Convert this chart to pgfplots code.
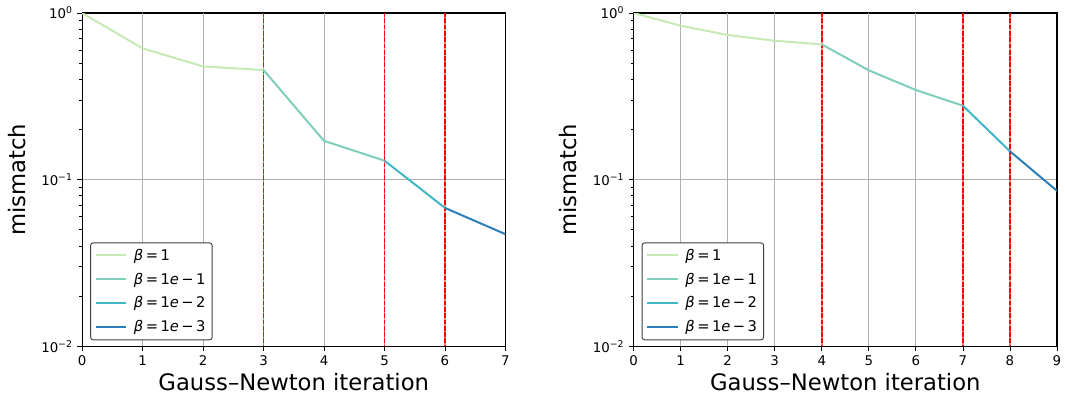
\documentclass[border=0pt]{standalone}
\usepackage{pgfplots}
\pgfplotsset{compat=1.18}
\usepackage{fontspec}
\setmainfont{DejaVu Sans}

\definecolor{b1}{HTML}{C7E9B4}
\definecolor{b2}{HTML}{7FCDBB}
\definecolor{b3}{HTML}{41B6C4}
\definecolor{b4}{HTML}{2C7FB8}
\definecolor{cutred}{HTML}{FF0000}

\pgfplotsset{
  every axis/.append style={
    scale only axis, width=317.25pt, height=249.75pt,
    ymin=0.01, ymax=1, xmin=0,
    ytick={0.01,0.1,1},
    yticklabels={10\textsuperscript{−2},10\textsuperscript{−1},10\textsuperscript{0}},
    minor ytick={0.02,0.03,0.04,0.05,0.06,0.07,0.08,0.09,0.2,0.3,0.4,0.5,0.6,0.7,0.8,0.9},
    ymajorgrids, major grid style={color=black!31, line width=0.6pt},
    tick align=outside, tick pos=left,
    major tick length=3.5pt, minor tick length=2pt,
    every tick/.style={black, line width=0.6pt},
    axis line style={line width=0.8pt},
    xlabel={Gauss–Newton iteration}, ylabel={mismatch},
    label style={font=\fontsize{17}{20}\selectfont},
    xlabel style={yshift=1pt},
    ylabel style={yshift=5pt},
    tick label style={font=\fontsize{10}{12}\selectfont},
    legend style={at={(0.019,0.018)}, anchor=south west,
      font=\fontsize{11}{13}\selectfont, draw=black!75, line width=0.7pt,
      rounded corners=2pt, inner xsep=3pt, inner ysep=2.5pt, row sep=4pt},
    legend cell align=left,
  },
  every axis plot/.append style={line width=1.5pt},
  legend image code/.code={\draw[#1, line width=1.5pt] (0pt,0pt) -- (23pt,0pt);},
  /pgf/number format/assume math mode=true,
}
\tikzset{
  cutbase/.style={draw=cutred!45, line width=1.2pt},
  cut/.style={draw=cutred, line width=1.2pt, dash pattern=on 3.5pt off 1.2pt, dash phase=0.6pt},
  vgrid/.style={black!31, line width=0.6pt},
}

\newcommand{\leg}[1]{\hspace{3pt}\textit{β}\,=\,#1}

\begin{document}
\begin{tikzpicture}
\useasboundingbox (-61.5pt,-42.75pt) rectangle (736.5pt,259.5pt);
\begin{semilogyaxis}[xmax=7, xtick={0,...,7}]
% vertical grid, except where a red line sits
\addplot[vgrid, forget plot] coordinates {(1,0.01) (1,1)};
\addplot[vgrid, forget plot] coordinates {(2,0.01) (2,1)};
\addplot[vgrid, forget plot] coordinates {(4,0.01) (4,1)};
% red dashed lines where beta changes
\addplot[cutbase, forget plot] coordinates {(3,1) (3,0.01)};
\addplot[cutbase, forget plot] coordinates {(5,1) (5,0.01)};
\addplot[cutbase, forget plot] coordinates {(6,1) (6,0.01)};
\addplot[cut, forget plot] coordinates {(3,1) (3,0.01)};
\addplot[cut, forget plot] coordinates {(5,1) (5,0.01)};
\addplot[cut, forget plot] coordinates {(6,1) (6,0.01)};
\addplot[b1] coordinates {(0,1.0) (1,0.614) (2,0.478) (3,0.455)};
\addplot[b2] coordinates {(3,0.455) (4,0.171) (5,0.130)};
\addplot[b3] coordinates {(5,0.130) (6,0.0677)};
\addplot[b4] coordinates {(6,0.0677) (7,0.0471)};
\legend{\leg{1}, \leg{1\textit{e}\,−\,1}, \leg{1\textit{e}\,−\,2}, \leg{1\textit{e}\,−\,3}}
\end{semilogyaxis}

\begin{semilogyaxis}[at={(413.25pt,0)}, xmax=9, xtick={0,...,9}]
\addplot[vgrid, forget plot] coordinates {(1,0.01) (1,1)};
\addplot[vgrid, forget plot] coordinates {(2,0.01) (2,1)};
\addplot[vgrid, forget plot] coordinates {(3,0.01) (3,1)};
\addplot[vgrid, forget plot] coordinates {(5,0.01) (5,1)};
\addplot[vgrid, forget plot] coordinates {(6,0.01) (6,1)};
\addplot[cutbase, forget plot] coordinates {(4,1) (4,0.01)};
\addplot[cutbase, forget plot] coordinates {(7,1) (7,0.01)};
\addplot[cutbase, forget plot] coordinates {(8,1) (8,0.01)};
\addplot[cut, forget plot] coordinates {(4,1) (4,0.01)};
\addplot[cut, forget plot] coordinates {(7,1) (7,0.01)};
\addplot[cut, forget plot] coordinates {(8,1) (8,0.01)};
\addplot[b1] coordinates {(0,1.0) (1,0.839) (2,0.738) (3,0.682) (4,0.648)};
\addplot[b2] coordinates {(4,0.648) (5,0.453) (6,0.345) (7,0.278)};
\addplot[b3] coordinates {(7,0.278) (8,0.148)};
\addplot[b4] coordinates {(8,0.148) (9,0.0857)};
\legend{\leg{1}, \leg{1\textit{e}\,−\,1}, \leg{1\textit{e}\,−\,2}, \leg{1\textit{e}\,−\,3}}
\end{semilogyaxis}
\end{tikzpicture}
\end{document}
